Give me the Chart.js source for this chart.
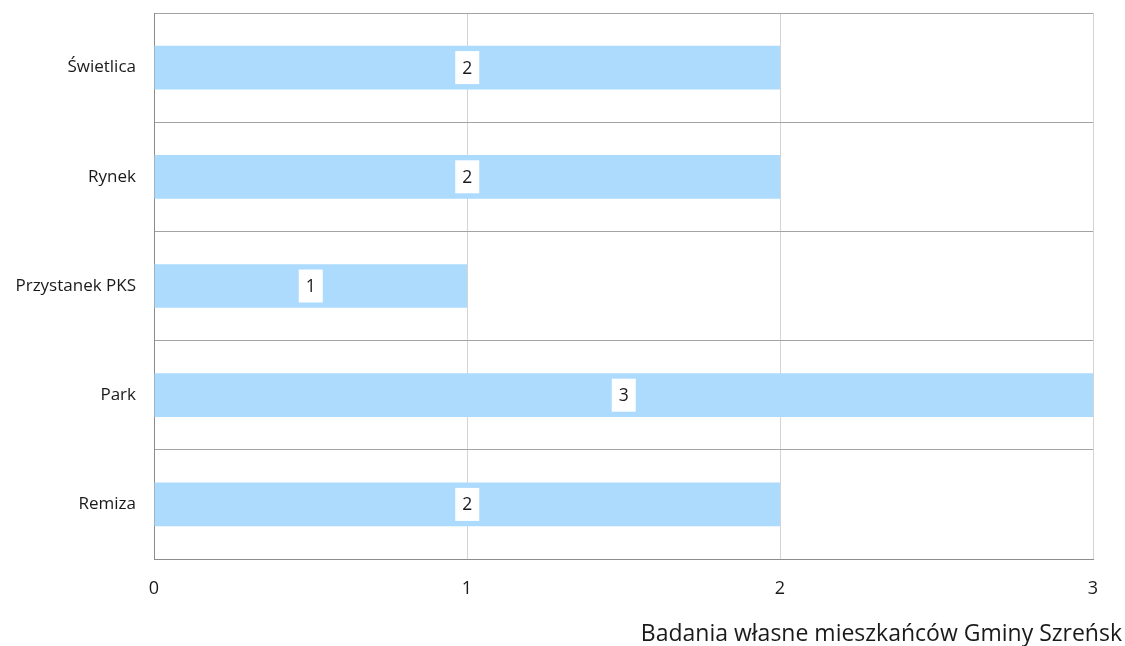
<!DOCTYPE html>
<html>
<head>
<meta charset="utf-8">
<script src="https://cdn.jsdelivr.net/npm/chart.js@4"></script>
<style>
  html, body { margin: 0; padding: 0; background: #fff; }
  #wrap { width: 1125px; height: 646px; }
</style>
</head>
<body>
<div id="wrap"><canvas id="chart" width="1125" height="646"></canvas></div>
<script>
// places named by residents
const categories = ["Świetlica", "Rynek", "Przystanek PKS", "Park", "Remiza"];
const counts = [2, 2, 1, 3, 2];
const xTicks = [0, 1, 2, 3];
const sourceNote = "Badania własne mieszkańców Gminy Szreńsk";

const FONT = "'Open Sans', Lato, sans-serif";

// white box with the value in the middle of each bar
const valueBoxes = {
  id: "valueBoxes",
  afterDatasetsDraw(chart) {
    const ctx = chart.ctx;
    const meta = chart.getDatasetMeta(0);
    ctx.save();
    ctx.font = "17.5px " + FONT;
    ctx.textAlign = "center";
    ctx.textBaseline = "middle";
    meta.data.forEach((bar, i) => {
      const cx = (bar.x + bar.base) / 2;
      const cy = bar.y;
      ctx.fillStyle = "#ffffff";
      ctx.fillRect(cx - 12, cy - 16.5, 24, 33);
      ctx.fillStyle = "#1a1a1a";
      ctx.fillText(String(counts[i]), cx, cy + 1);
    });
    ctx.restore();
  }
};

const footer = {
  id: "footer",
  afterDraw(chart) {
    const ctx = chart.ctx;
    ctx.save();
    ctx.font = "23px " + FONT;
    ctx.fillStyle = "#1a1a1a";
    ctx.textAlign = "right";
    ctx.textBaseline = "middle";
    ctx.fillText(sourceNote, 1122, 634);
    ctx.restore();
  }
};

new Chart(document.getElementById("chart"), {
  type: "bar",
  data: {
    labels: categories,
    datasets: [{
      data: counts,
      backgroundColor: "#addbfe",
      borderWidth: 0,
      barPercentage: 0.4,
      categoryPercentage: 1.0
    }]
  },
  options: {
    indexAxis: "y",
    responsive: false,
    animation: false,
    layout: { padding: { top: 13, right: 32, left: 0, bottom: 0 } },
    plugins: { legend: { display: false }, tooltip: { enabled: false } },
    scales: {
      x: {
        min: 0,
        max: 3,
        afterBuildTicks(axis) { axis.ticks = xTicks.map(v => ({ value: v })); },
        afterFit(axis) { axis.height = 87; },
        grid: { color: "#d4d4d4", lineWidth: 1, drawTicks: false },
        border: { color: "#8c8c8c" },
        ticks: { color: "#1a1a1a", font: { size: 18, family: FONT }, padding: 19 }
      },
      y: {
        afterFit(axis) { axis.width = 154; axis.paddingTop = 0; axis.paddingBottom = 0; },
        grid: { color: "#a3a3a3", lineWidth: 1, drawTicks: false, offset: true },
        border: { color: "#8c8c8c" },
        ticks: { color: "#1a1a1a", font: { size: 17, family: FONT }, padding: 18 }
      }
    }
  },
  plugins: [valueBoxes, footer]
});
</script>
</body>
</html>
